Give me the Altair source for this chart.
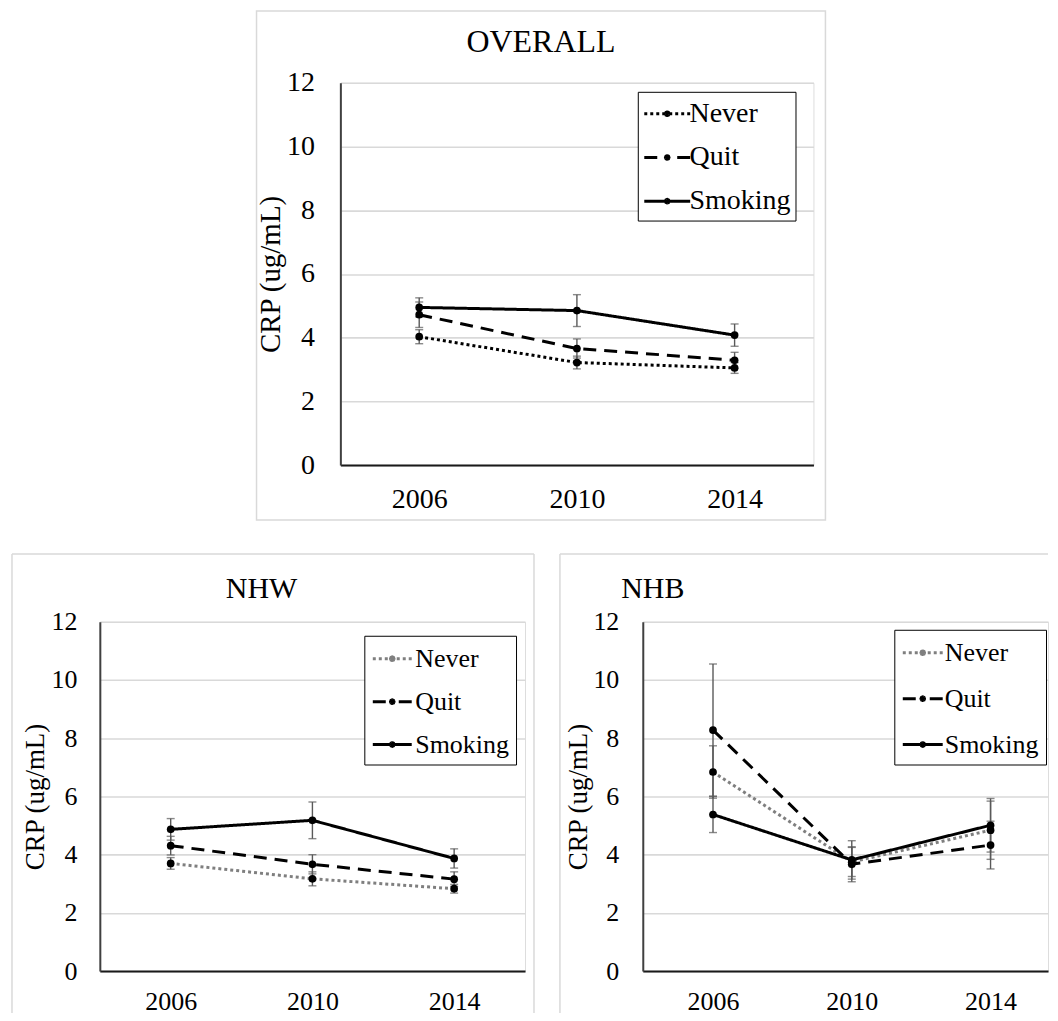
import altair as alt
import pandas as pd

years = ["2006", "2010", "2014"]
groups = ["Never", "Quit", "Smoking"]

# OVERALL
overall_never = [4.03, 3.22, 3.05]
overall_never_err = [0.22, 0.20, 0.17]
overall_quit = [4.72, 3.66, 3.29]
overall_quit_err = [0.40, 0.30, 0.25]
overall_smoking = [4.95, 4.85, 4.08]
overall_smoking_err = [0.30, 0.50, 0.35]

# NHW
nhw_never = [3.70, 3.17, 2.83]
nhw_never_err = [0.20, 0.24, 0.15]
nhw_quit = [4.31, 3.67, 3.16]
nhw_quit_err = [0.32, 0.33, 0.25]
nhw_smoking = [4.87, 5.18, 3.87]
nhw_smoking_err = [0.37, 0.63, 0.33]

# NHB
nhb_never = [6.84, 3.75, 4.84]
nhb_never_err = [0.90, 0.50, 1.00]
nhb_quit = [8.28, 3.67, 4.33]
nhb_quit_err = [2.27, 0.60, 0.82]
nhb_smoking = [5.38, 3.82, 5.01]
nhb_smoking_err = [0.62, 0.66, 0.92]

y_ticks = [0, 2, 4, 6, 8, 10, 12]
y_title = "CRP (ug/mL)"

FONT = "Liberation Serif"
FRAME = "#d9d9d9"
ONE = pd.DataFrame({"k": [0]})


def sym_path(s, half_w_px, gap_px=2.5):
    """Legend glyph: line pieces drawn from the outer ends inwards (so the
    dash pattern is symmetric) plus a dot made of tiny closed sub-paths."""
    def u(v):
        return round(v / s, 4)
    hw, g = u(half_w_px), u(gap_px)
    p = f"M{-hw},0L{-g},0M{hw},0L{g},0"
    r = 0.45
    for cx, cy in [(0, 0), (1.4, 0), (-1.4, 0), (0, 1.4), (0, -1.4),
                   (1.0, 1.0), (-1.0, 1.0), (1.0, -1.0), (-1.0, -1.0)]:
        p += (f"M{u(cx - r)},{u(cy)}A{u(r)},{u(r)},0,1,1,{u(cx + r)},{u(cy)}"
              f"A{u(r)},{u(r)},0,1,1,{u(cx - r)},{u(cy)}Z")
    return p


def make_df(series):
    rows = []
    for g, (vals, errs) in zip(groups, series):
        for yr, v, e in zip(years, vals, errs):
            rows.append({"year": yr, "group": g, "value": v,
                         "lo": v - e, "hi": v + e})
    return pd.DataFrame(rows)


def hline(x1, x2, y):
    return alt.Chart(ONE).mark_rule(color=FRAME, strokeWidth=1.5).encode(
        x=alt.value(x1), x2=alt.value(x2), y=alt.value(y))


def vline(x, y1, y2):
    return alt.Chart(ONE).mark_rule(color=FRAME, strokeWidth=1.5).encode(
        x=alt.value(x), y=alt.value(y1), y2=alt.value(y2))


def panel(df, title, title_xy, title_size, width, height, frame_layers,
          never_color, fs_tick, fs_ytitle, ylab_pad, ytitle_pad, xlab_pad,
          x_scale, leg_fs, leg_xy, leg_pad, leg_row, sym_w, sym_gap):
    dashes = [[3, 3], [13, 8], [1, 0]]
    sz = round(leg_fs * 1.1)
    s = sz / 2.0
    sym_off = sym_w / 2.0 - s
    lab_off = sym_w + sym_gap - sz - 7

    x = alt.X("year:O", title=None, scale=x_scale,
              axis=alt.Axis(labelAngle=0, ticks=False, tickSize=0, grid=False,
                            labelPadding=xlab_pad, labelFontSize=fs_tick,
                            labelColor="black", domainColor="#1a1a1a",
                            domainWidth=2, labelFont=FONT))
    y = alt.Y("value:Q", title=y_title,
              scale=alt.Scale(domain=[0, 12], nice=False, zero=True),
              axis=alt.Axis(values=y_ticks, ticks=False, tickSize=0,
                            labelPadding=ylab_pad, labelFontSize=fs_tick,
                            labelColor="black", domainColor="#404040",
                            domainWidth=2, gridColor="#d9d9d9", gridWidth=1.6,
                            titleFontSize=fs_ytitle, titleFont=FONT,
                            titleFontWeight="normal", titleColor="black",
                            titlePadding=ytitle_pad, labelFont=FONT))
    leg = alt.Legend(title=None, orient="none", legendX=leg_xy[0],
                     legendY=leg_xy[1], strokeColor="black",
                     padding=leg_pad, labelFont=FONT, labelFontSize=leg_fs,
                     labelColor="black", symbolType=sym_path(s, sym_w / 2.0),
                     symbolSize=sz * sz, symbolStrokeWidth=3,
                     symbolOffset=sym_off, labelOffset=lab_off,
                     rowPadding=leg_row, fillColor="white", labelLimit=300)
    base = alt.Chart(df)
    errs = base.mark_rule(color="#595959", strokeWidth=1.4).encode(
        x=x, y="lo:Q", y2="hi:Q")
    cap_lo = base.mark_tick(color="#595959", size=8, thickness=1.4).encode(
        x=x, y="lo:Q")
    cap_hi = base.mark_tick(color="#595959", size=8, thickness=1.4).encode(
        x=x, y="hi:Q")
    lines = base.mark_line(strokeWidth=3).encode(
        x=x, y=y,
        color=alt.Color("group:N",
                        scale=alt.Scale(domain=groups,
                                        range=[never_color, "black", "black"]),
                        legend=leg),
        strokeDash=alt.StrokeDash("group:N",
                                  scale=alt.Scale(domain=groups, range=dashes),
                                  legend=leg),
    )
    pts = base.mark_circle(size=60, color="black", opacity=1).encode(
        x=x, y="value:Q", detail="group:N")
    ttl = alt.Chart(pd.DataFrame({"t": [title]})).mark_text(
        font=FONT, fontSize=title_size, color="black", align="center",
        baseline="alphabetic").encode(
        text="t:N", x=alt.value(title_xy[0]), y=alt.value(title_xy[1]))
    layers = list(frame_layers) + [ttl, errs, cap_lo, cap_hi, lines, pts]
    return alt.layer(*layers).properties(width=width, height=height)


overall_df = make_df([(overall_never, overall_never_err),
                      (overall_quit, overall_quit_err),
                      (overall_smoking, overall_smoking_err)])
nhw_df = make_df([(nhw_never, nhw_never_err),
                  (nhw_quit, nhw_quit_err),
                  (nhw_smoking, nhw_smoking_err)])
nhb_df = make_df([(nhb_never, nhb_never_err),
                  (nhb_quit, nhb_quit_err),
                  (nhb_smoking, nhb_smoking_err)])

top_frame = [alt.Chart(ONE).mark_rect(
    fill="white", fillOpacity=0, stroke=FRAME, strokeWidth=1.5).encode(
    x=alt.value(-84), x2=alt.value(486), y=alt.value(-72), y2=alt.value(438))]
nhw_frame = [hline(-88, 435, -68), vline(-88, -68, 392), vline(435, -68, 392)]
nhb_frame = [hline(-83, 406, -68), vline(-83, -68, 392)]

point_std = alt.Scale(type="point", padding=0.5)
point_nhb = alt.Scale(type="point", padding=0.46, align=0.55)

top = panel(overall_df, "OVERALL", (201, -31), 32, 474, 383, top_frame,
            "black", 28, 29, 26, 1, 20, point_std,
            28, (298, 9), 5, 12.8, 46, -2.7)
left = panel(nhw_df, "NHW", (162, -24), 30, 426, 350, nhw_frame,
             "#7f7f7f", 26, 27, 23, 1.5, 17, point_std,
             26, (265, 14), 7, 14, 39, 4)
right = panel(nhb_df, "NHB", (10, -24), 30, 406, 350, nhb_frame,
              "#7f7f7f", 26, 27, 24, 0.5, 17, point_nhb,
              26, (252, 8), 7, 17, 40, 2)

# invisible white block that only reserves horizontal room left of OVERALL
spacer = alt.Chart(ONE).mark_rect(color="white", strokeWidth=0).encode(
    x=alt.value(0), x2=alt.value(155), y=alt.value(-40), y2=alt.value(-39)
).properties(width=155, height=1,
             view=alt.ViewBackground(fill="white", stroke="white",
                                     strokeWidth=0))

row1 = alt.hconcat(spacer, top, spacing=0).resolve_scale(
    color="independent", strokeDash="independent").resolve_legend(
    color="independent", strokeDash="independent")
row2 = alt.hconcat(left, right, spacing=22).resolve_scale(
    color="independent", strokeDash="independent").resolve_legend(
    color="independent", strokeDash="independent")

chart = alt.vconcat(row1, row2, spacing=30).resolve_scale(
    color="independent", strokeDash="independent").resolve_legend(
    color="independent", strokeDash="independent").properties(
    padding={"left": 2, "top": 0, "right": 0, "bottom": 0},
).configure_view(stroke="transparent", strokeWidth=0).configure_legend(
    strokeWidth=1.5).configure(font=FONT)

chart.save("out.html", embed_options={"renderer": "svg", "actions": False})
